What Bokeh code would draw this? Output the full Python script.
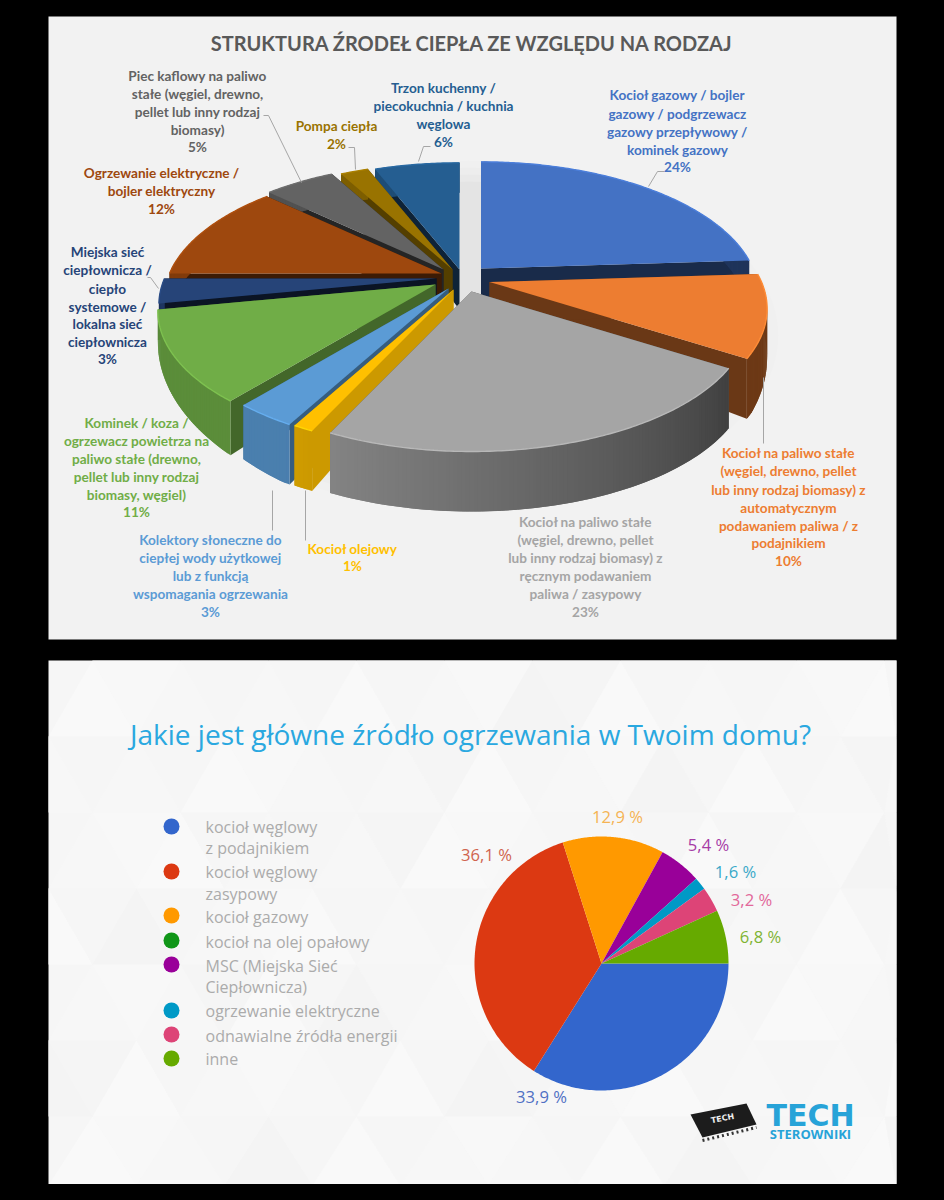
import numpy as np
from bokeh.plotting import figure
from bokeh.embed import file_html
from bokeh.resources import INLINE
from bokeh.core.properties import value
from bokeh.models import Range1d

# ---------- data: upper chart ----------
TOP_TITLE = "STRUKTURA ŹRODEŁ CIEPŁA ZE WZGLĘDU NA RODZAJ"
TOP_VALUES = [24, 10, 23, 1, 3, 11, 3, 12, 5, 2, 6]
TOP_LABELS = [
    ["Kocioł gazowy / bojler", "gazowy / podgrzewacz", "gazowy przepływowy /", "kominek gazowy"],
    ["Kocioł na paliwo stałe", "(węgiel, drewno, pellet", "lub inny rodzaj biomasy) z", "automatycznym", "podawaniem paliwa / z", "podajnikiem"],
    ["Kocioł na paliwo stałe", "(węgiel, drewno, pellet", "lub inny rodzaj biomasy) z", "ręcznym podawaniem", "paliwa / zasypowy"],
    ["Kocioł olejowy"],
    ["Kolektory słoneczne do", "ciepłej wody użytkowej", "lub z funkcją", "wspomagania ogrzewania"],
    ["Kominek / koza /", "ogrzewacz powietrza na", "paliwo stałe (drewno,", "pellet lub inny rodzaj", "biomasy, węgiel)"],
    ["Miejska sieć", "ciepłownicza /", "ciepło", "systemowe /", "lokalna sieć", "ciepłownicza"],
    ["Ogrzewanie elektryczne /", "bojler elektryczny"],
    ["Piec kaflowy na paliwo", "stałe (węgiel, drewno,", "pellet lub inny rodzaj", "biomasy)"],
    ["Pompa ciepła"],
    ["Trzon kuchenny /", "piecokuchnia / kuchnia", "węglowa"],
]

# ---------- data: lower chart ----------
BOTTOM_TITLE = "Jakie jest główne źródło ogrzewania w Twoim domu?"
BOTTOM_VALUES = [33.9, 36.1, 12.9, 0.0, 5.4, 1.6, 3.2, 6.8]
BOTTOM_TEXTS = ["33,9 %", "36,1 %", "12,9 %", "", "5,4 %", "1,6 %", "3,2 %", "6,8 %"]
BOTTOM_LEGEND = [
    ["kocioł węglowy", "z podajnikiem"],
    ["kocioł węglowy", "zasypowy"],
    ["kocioł gazowy"],
    ["kocioł na olej opałowy"],
    ["MSC (Miejska Sieć", "Ciepłownicza)"],
    ["ogrzewanie elektryczne"],
    ["odnawialne źródła energii"],
    ["inne"],
]

# ---------- style and layout ----------
TOP_COLORS = ["#4472c4", "#ed7d31", "#a5a5a5", "#ffc000", "#5b9bd5", "#70ad47",
              "#264478", "#9e480e", "#636363", "#997300", "#255e91"]
TOP_DX = [20.5, 29, 11, -7, -12, -25, -24, -19, -17, -8, -1]
TOP_DY = [-10, 3.5, 13, 11, 10, 6, 0, -5, -9, -9, -9]
TOP_FACE = [.38, .45, .5, .8, .6, .6, .3, .38, .38, .55, .38]
DRAW_ORDER = [10, 9, 8, 7, 6, 5, 4, 3, 0, 1, 2]
LABEL_X = [677, 788, 585, 352, 210, 136, 107, 161, 197, 336, 443]
LABEL_Y = [[94, 113, 131, 149, 166], [452, 470, 489, 507, 525, 542, 560],
           [521, 539, 557, 575, 593, 611], [548, 565], [539, 557, 575, 593, 611],
           [422, 440, 458, 476, 494, 511], [251, 269, 288, 306, 323, 341, 358],
           [172, 190, 208], [75, 93, 111, 129, 146], [125, 143], [87, 105, 123, 141]]
LEADERS = [
    ([648, 657, 664], [186, 171, 171]),
    ([763, 763], [377, 443]),
    ([305, 305], [490, 540]),
    ([272, 272], [490, 530]),
    ([158, 150, 147], [288, 277, 277]),
    ([263, 268, 301], [115, 115, 182]),
    ([348, 354, 355], [147, 147, 169]),
    ([430, 423, 418], [146, 146, 161]),
]
CX, CY, RX, RY, PERSP = 460, 278, 272, 128, 0.2
DEPTH_NEAR, DEPTH_FAR, DEPTH_MID_ANGLE = 60, 30, 165

BOTTOM_COLORS = ["#3366cc", "#dc3912", "#ff9900", "#109618", "#990099", "#0099c6", "#dd4477", "#66aa00"]
TEXT_COLORS = ["#4f70c4", "#d0644e", "#f5b353", "", "#a63ca6", "#3aa9c9", "#e2689a", "#7fb433"]
TEXT_X = [541, 486, 617, 0, 708, 735, 751, 760]
TEXT_Y = [1096, 854, 816, 0, 844, 871, 899, 936]
LEG_DOT_Y = [826, 871, 915, 940, 964, 1010, 1034, 1058]
LEG_TEXT_Y = [[826, 847], [871, 893], [916], [941], [965, 986], [1010], [1035], [1058]]

p = figure(width=928, height=1184, x_range=Range1d(0, 928), y_range=Range1d(1184, 0),
           x_axis_type=None, y_axis_type=None, toolbar_location=None, output_backend="svg",
           min_border=0, background_fill_color="#000000", border_fill_color="#000000",
           outline_line_color=None)
p.grid.visible = False

FONT = value("Lato")
SANS = value("Open Sans")


def shade(hex_color, f):
    c = [int(hex_color[i:i + 2], 16) for i in (1, 3, 5)]
    return "#%02x%02x%02x" % tuple(int(min(255, v * f)) for v in c)


def proj(a_deg, r, dx, dy):
    a = np.radians(a_deg)
    w = 1 + PERSP * r * np.cos(a)
    return CX + dx + RX * r * np.sin(a) / w, CY + dy - RY * r * np.cos(a) / w, w


def depth(a_deg):
    d = np.abs(np.asarray(a_deg) - DEPTH_MID_ANGLE)
    return DEPTH_FAR + (DEPTH_NEAR - DEPTH_FAR) * np.clip((95 - d) / 50, 0, 1)


# panels
p.quad(left=48, right=896, top=16, bottom=639, fill_color="#f2f2f2", line_color=None)
p.quad(left=48, right=896, top=660, bottom=1185, fill_color="#f6f6f6", line_color=None)

# faint triangle lattice of the lower panel
tx, ty, tc = [], [], []
S, H = 88, 76
for j in range(8):
    for i in range(13):
        x0 = 48 + i * S - (S / 2 if j % 2 else 0)
        y0 = 660 + j * H
        up = np.clip([x0, x0 + S, x0 + S / 2], 48, 896)
        dn = np.clip([x0 + S / 2, x0 + S * 1.5, x0 + S], 48, 896)
        yu = np.clip([y0 + H, y0 + H, y0], 660, 1185)
        yd = np.clip([y0, y0, y0 + H], 660, 1185)
        tx += [list(up), list(dn)]
        ty += [list(yu), list(yd)]
        tc += ["#f9f9f9" if (i + j) % 3 == 0 else "#f4f4f4" if (i * 2 + j) % 5 == 0 else "#f7f7f7",
               "#f8f8f8" if (i + 2 * j) % 4 == 0 else "#f5f5f5" if (i + j) % 5 == 0 else "#f6f6f6"]
p.patches(tx, ty, fill_color=tc, line_color=None)

# soft shadow under the upper pie
for k, al in zip([1.0, 0.96, 0.92, 0.88], [0.008, 0.012, 0.016, 0.02]):
    p.ellipse(x=[468], y=[335], width=[620 * k], height=[350 * k], fill_color="#000000",
              fill_alpha=al, line_color=None)

# 3-D exploded pie built from the values
cum = np.concatenate([[0], np.cumsum(TOP_VALUES)]) / sum(TOP_VALUES) * 360
for i in DRAW_ORDER:
    a0, a1 = cum[i], cum[i + 1]
    col, dx, dy = TOP_COLORS[i], TOP_DX[i], TOP_DY[i]
    angs = np.linspace(a0, a1, max(3, int((a1 - a0) * 1.5)))
    X, Y, W = proj(angs, 1.0, dx, dy)
    ax, ay, aw = proj(np.array([0.0]), 0.0, dx, dy)
    ax, ay = float(ax[0]), float(ay[0])
    drop = depth(angs)
    adrop = 40
    face = shade(col, TOP_FACE[i])
    # radial cut faces
    for j in (-1, 0):
        p.patch([ax, X[j], X[j], ax], [ay, Y[j], Y[j] + drop[j], ay + adrop],
                fill_color=face, line_color=None)
    # outer rim, shaded along the angle; each strip overlaps the next so no seams appear
    qx, qy, qc = [], [], []
    for k in range(len(angs) - 1):
        e = min(k + 2, len(angs) - 1)
        qx.append([X[k], X[e], X[e], X[k]])
        qy.append([Y[k], Y[e], Y[e] + drop[e], Y[k] + drop[k]])
        f = float(np.clip(0.39 + (angs[k] - 122) / 83 * 0.41, 0.46 if angs[k] < 122 else 0.39, 0.82))
        qc.append(shade(col, f))
    p.patches(qx, qy, fill_color=qc, line_color=None)
    # top surface
    p.patch([ax] + list(X), [ay] + list(Y), fill_color=col, line_color=None)
    # light rim bevel
    p.line(X, Y, line_color=shade(col, 1.12), line_width=1.4)

# leader lines
for lx, ly in LEADERS:
    p.line(lx, ly, line_color="#a6a6a6", line_width=1)

# upper texts
p.text(x=[472], y=[42], text=[TOP_TITLE], text_font=FONT, text_font_style="bold",
       text_font_size="20px", text_color="#595959", text_align="center", text_baseline="middle")
for i, lines in enumerate(TOP_LABELS):
    rows = lines + [f"{TOP_VALUES[i]}%"]
    p.text(x=[LABEL_X[i]] * len(rows), y=LABEL_Y[i], text=rows, text_font=FONT, text_font_style="bold",
           text_font_size="13.6px", text_color=TOP_COLORS[i], text_align="center", text_baseline="middle")

# lower title
p.text(x=[470], y=[733], text=[BOTTOM_TITLE], text_font=SANS, text_font_size="28px",
       text_color="#2aa8e0", text_align="center", text_baseline="middle")

# lower pie
c2 = np.concatenate([[0], np.cumsum(BOTTOM_VALUES)]) / sum(BOTTOM_VALUES) * 2 * np.pi
PX, PY, PR = 601, 963, 127
for i, col in enumerate(BOTTOM_COLORS):
    if BOTTOM_VALUES[i] == 0:
        continue
    t = np.linspace(c2[i], c2[i + 1], 120)
    p.patch([PX] + list(PX + PR * np.cos(t)), [PY] + list(PY + PR * np.sin(t)), fill_color=col, line_color=None)
    p.text(x=[TEXT_X[i]], y=[TEXT_Y[i]], text=[BOTTOM_TEXTS[i]], text_font=SANS, text_font_size="16.6px",
           text_color=TEXT_COLORS[i], text_align="center", text_baseline="middle")

# lower legend
p.scatter(x=[171] * 8, y=LEG_DOT_Y, size=16, marker="circle", fill_color=BOTTOM_COLORS, line_color=None)
for lines, ys in zip(BOTTOM_LEGEND, LEG_TEXT_Y):
    p.text(x=[205] * len(lines), y=ys, text=lines, text_font=SANS, text_font_size="16px",
           text_color="#ababab", text_align="left", text_baseline="middle")

# logo
p.line([702, 756], [1140, 1127], line_color="#333333", line_width=3, line_dash="2 3")
p.patch([690, 746, 756, 702], [1114, 1103, 1124, 1137], fill_color="#1c1c1c", line_color=None)
p.text(x=[722], y=[1118], text=["TECH"], angle=[0.19], text_font=value("DejaVu Sans"), text_font_style="bold",
       text_font_size="8px", text_color="#eeeeee", text_align="center", text_baseline="middle")
p.text(x=[810], y=[1115], text=["TECH"], text_font=value("DejaVu Sans"), text_font_style="bold",
       text_font_size="30px", text_color="#27a3d8", text_align="center", text_baseline="middle")
p.text(x=[810], y=[1133], text=["STEROWNIKI"], text_font=value("Open Sans"), text_font_style="bold",
       text_font_size="13px", text_color="#27a3d8", text_align="center", text_baseline="middle")

html = file_html(p, INLINE).replace("<body>", '<body style="background:#000000">')
open("out.html", "w").write(html)
